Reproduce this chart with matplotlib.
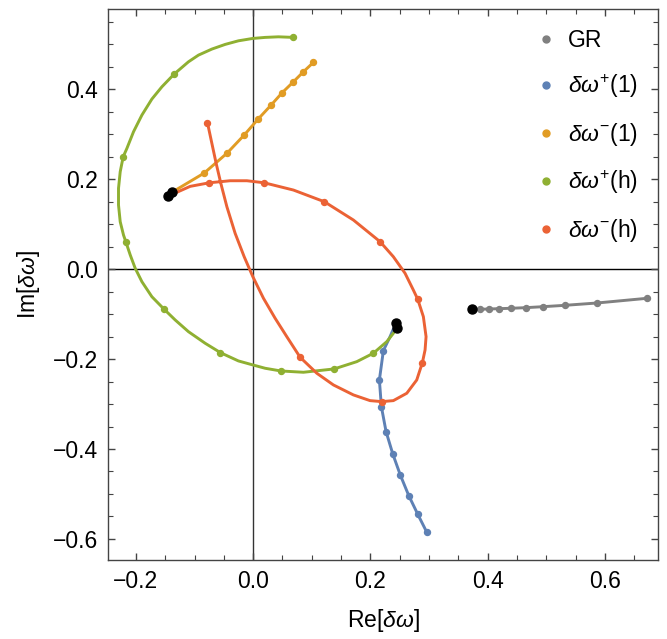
import numpy as np
import matplotlib
matplotlib.use('Agg')
import matplotlib.pyplot as plt
from matplotlib.lines import Line2D
from matplotlib.ticker import MultipleLocator

plt.rcParams['font.family'] = ['Liberation Sans', 'DejaVu Sans']
plt.rcParams['mathtext.fontset'] = 'custom'
plt.rcParams['mathtext.rm'] = 'Liberation Sans'
plt.rcParams['mathtext.it'] = 'Liberation Sans:italic'

# GR
gr_x = [0.3738, 0.3869, 0.4023, 0.4199, 0.4402, 0.4647, 0.4942, 0.5323, 0.5864, 0.6720]
gr_y = [-0.0892, -0.0892, -0.0885, -0.0878, -0.0869, -0.0856, -0.0834, -0.0803, -0.0752, -0.0647]

# delta omega + (1)
p1_line_x = [0.2437, 0.2335, 0.2221, 0.2153, 0.2187, 0.2267, 0.2381, 0.2511, 0.2654, 0.2807, 0.2961]
p1_line_y = [-0.1190, -0.1501, -0.1812, -0.2464, -0.3058, -0.3614, -0.4109, -0.4583, -0.5037, -0.5451, -0.5851]
p1_x = [0.2221, 0.2153, 0.2187, 0.2267, 0.2381, 0.2511, 0.2654, 0.2807, 0.2961]
p1_y = [-0.1812, -0.2464, -0.3058, -0.3614, -0.4109, -0.4583, -0.5037, -0.5451, -0.5851]

# delta omega - (1)
m1_x = [-0.1386, -0.0835, -0.0443, -0.0153, 0.0085, 0.0302, 0.0494, 0.0682, 0.0857, 0.1028]
m1_y = [0.1710, 0.2139, 0.2584, 0.2984, 0.3340, 0.3645, 0.3925, 0.4163, 0.4392, 0.4601]

# delta omega + (h): curve and sample points
ph_line_x = [0.2459, 0.2279, 0.2050, 0.1767, 0.1381, 0.0857, 0.0472, 0.0205, -0.0005, -0.0251,
             -0.0557, -0.0818, -0.1103, -0.1329, -0.1517, -0.1727, -0.1897, -0.2011, -0.2096,
             -0.2170, -0.2211, -0.2267, -0.2296, -0.2296, -0.2267, -0.2216, -0.2153, -0.2040,
             -0.1897, -0.1727, -0.1556, -0.1347, -0.1103, -0.0932, -0.0704, -0.0477, -0.0251,
             -0.0005, 0.0205, 0.0431, 0.0687]
ph_line_y = [-0.1314, -0.1612, -0.1870, -0.2057, -0.2219, -0.2293, -0.2264, -0.2204, -0.2130, -0.2041,
             -0.1857, -0.1648, -0.1390, -0.1130, -0.0892, -0.0612, -0.0278, 0.0020, 0.0316,
             0.0605, 0.0761, 0.1056, 0.1428, 0.1799, 0.2168, 0.2502, 0.2688, 0.3058,
             0.3429, 0.3785, 0.4058, 0.4341, 0.4614, 0.4763, 0.4897, 0.5001, 0.5081,
             0.5134, 0.5157, 0.5170, 0.5157]
ph_x = [0.2050, 0.1381, 0.0472, -0.0557, -0.1517, -0.2170, -0.2216, -0.1347, 0.0687]
ph_y = [-0.1870, -0.2219, -0.2264, -0.1857, -0.0892, 0.0605, 0.2502, 0.4341, 0.5157]

# delta omega - (h): curve and sample points
mh_line_x = [-0.1444, -0.1074, -0.0745, -0.0392, -0.0107, 0.0187, 0.0687, 0.1215, 0.1710, 0.2165,
             0.2391, 0.2591, 0.2732, 0.2807, 0.2903, 0.2949, 0.2932, 0.2886, 0.2790, 0.2620,
             0.2391, 0.2194, 0.1994, 0.1710, 0.1369, 0.1086, 0.0801, 0.0574, 0.0375, 0.0176,
             -0.0005, -0.0153, -0.0307, -0.0448, -0.0551, -0.0631, -0.0704, -0.0779]
mh_line_y = [0.1628, 0.1843, 0.1923, 0.1968, 0.1968, 0.1923, 0.1761, 0.1501, 0.1094, 0.0612,
             0.0278, -0.0091, -0.0463, -0.0669, -0.1056, -0.1501, -0.1797, -0.2079, -0.2464, -0.2760,
             -0.2924, -0.2946, -0.2924, -0.2797, -0.2575, -0.2315, -0.1959, -0.1501, -0.1092, -0.0647,
             -0.0167, 0.0278, 0.0798, 0.1390, 0.1910, 0.2355, 0.2800, 0.3258]
mh_x = [-0.0745, 0.0187, 0.1215, 0.2165, 0.2807, 0.2886, 0.2194, 0.0801, -0.0779]
mh_y = [0.1923, 0.1923, 0.1501, 0.0612, -0.0669, -0.2079, -0.2946, -0.1959, 0.3258]

# starting points (black)
start_x = [0.3738, 0.2437, 0.2459, -0.1386, -0.1444]
start_y = [-0.0892, -0.1190, -0.1314, 0.1710, 0.1628]

labels = ['GR', r'$\delta\omega^{+}$(1)', r'$\delta\omega^{-}$(1)', r'$\delta\omega^{+}$(h)', r'$\delta\omega^{-}$(h)']
colors = ['#808080', '#5E81B5', '#E19C24', '#8FB032', '#EB6235']

fig = plt.figure(figsize=(6.67, 6.39), dpi=100)
ax = fig.add_axes([0.1615, 0.1236, 0.8255, 0.8624])

ax.axhline(0, color='black', lw=1.0, zorder=1)
ax.axvline(0, color='#333333', lw=1.0, zorder=1)

lw = 2.1
ms = 4.3
kw = dict(lw=lw, solid_joinstyle='round', solid_capstyle='round')
ax.plot(gr_x, gr_y, '-o', color=colors[0], ms=ms, zorder=2, **kw)
ax.plot(p1_line_x, p1_line_y, '-', color=colors[1], zorder=3, **kw)
ax.plot(p1_x, p1_y, 'o', color=colors[1], ms=ms, zorder=3)
ax.plot(m1_x, m1_y, '-o', color=colors[2], ms=ms, zorder=4, **kw)
ax.plot(ph_line_x, ph_line_y, '-', color=colors[3], zorder=5, **kw)
ax.plot(ph_x, ph_y, 'o', color=colors[3], ms=ms, zorder=5)
ax.plot(mh_line_x, mh_line_y, '-', color=colors[4], zorder=6, **kw)
ax.plot(mh_x, mh_y, 'o', color=colors[4], ms=ms, zorder=6)
ax.plot(start_x, start_y, 'o', color='black', ms=6.5, zorder=7)

ax.set_xlim(-0.248, 0.691)
ax.set_ylim(-0.647, 0.579)
ax.xaxis.set_major_locator(MultipleLocator(0.2))
ax.xaxis.set_minor_locator(MultipleLocator(0.05))
ax.yaxis.set_major_locator(MultipleLocator(0.2))
ax.yaxis.set_minor_locator(MultipleLocator(0.05))
ax.tick_params(which='both', direction='in', top=True, right=True, color='#444444', labelsize=16.5, pad=7)
ax.tick_params(which='major', length=5.3, width=1.0)
ax.tick_params(which='minor', length=3.4, width=0.8)
for s in ax.spines.values():
    s.set_color('#444444')
    s.set_linewidth(1.0)

ax.set_xlabel(r'Re[$\delta\omega$]', fontsize=16.5, labelpad=10)
ax.set_ylabel(r'Im[$\delta\omega$]', fontsize=16.5, labelpad=8)

handles = [Line2D([], [], ls='', marker='o', color=c, ms=5) for c in colors]
ax.legend(handles, labels, loc='upper left', bbox_to_anchor=(0.755, 0.985), frameon=False,
          fontsize=16.5, labelspacing=0.9, handlelength=1.0, handletextpad=0.45, borderpad=0)

plt.savefig('out.png', dpi=100)
